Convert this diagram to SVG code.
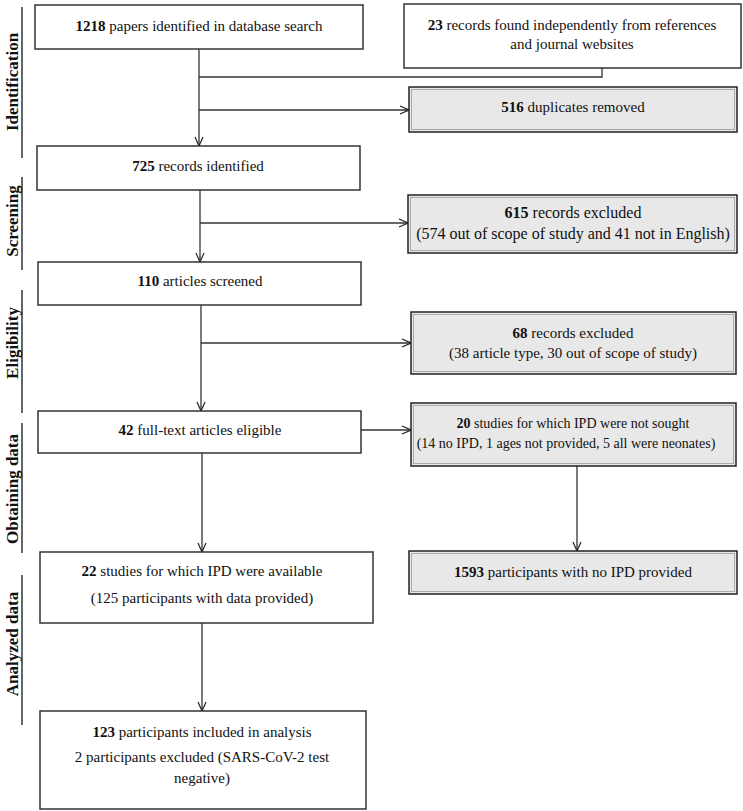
<svg xmlns="http://www.w3.org/2000/svg" width="743" height="811" viewBox="0 0 743 811">
<defs>
<marker id="arr" viewBox="0 0 10 10" refX="10" refY="5" markerWidth="10" markerHeight="10" markerUnits="userSpaceOnUse" orient="auto">
<path d="M1,1 L10,5 L1,9" fill="none" stroke="#222" stroke-width="1.2"/>
</marker>
<style>
.box{fill:#fff;stroke:#333;stroke-width:1.5}
.gbox{fill:#e8e8e8;stroke:#222;stroke-width:1.5}
.gin{fill:none;stroke:#aaa;stroke-width:1}
.t{font-family:"Liberation Serif","Times New Roman",serif;font-size:15px;fill:#111;text-anchor:middle}
.m{font-size:16px}
.s{font-size:14px}
.b{font-weight:bold}
.lab{font-family:"Liberation Serif","Times New Roman",serif;font-size:17px;font-weight:bold;fill:#111;text-anchor:middle}
.ln{stroke:#333;stroke-width:1.3;fill:none}
.sep{stroke:#333;stroke-width:1.5}
</style>
</defs>
<rect width="743" height="811" fill="#fff"/>
<g id="phases">
<line class="sep" x1="22" y1="7" x2="22" y2="158"/>
<text class="lab" transform="translate(18,82) rotate(-90)">Identification</text>
<line class="sep" x1="22" y1="177" x2="22" y2="270"/>
<text class="lab" transform="translate(18,221) rotate(-90)">Screening</text>
<line class="sep" x1="22" y1="290" x2="22" y2="413"/>
<text class="lab" transform="translate(18,343) rotate(-90)">Eligibility</text>
<line class="sep" x1="22" y1="423" x2="22" y2="553"/>
<text class="lab" transform="translate(18,489) rotate(-90)">Obtaining data</text>
<line class="sep" x1="22" y1="575" x2="22" y2="725"/>
<text class="lab" transform="translate(18,644) rotate(-90)">Analyzed data</text>
</g>
<g id="connectors">
<line class="ln" x1="199" y1="49" x2="199" y2="146" marker-end="url(#arr)"/>
<polyline class="ln" points="602,68 602,77 199,77"/>
<line class="ln" x1="199" y1="110" x2="409" y2="110" marker-end="url(#arr)"/>
<line class="ln" x1="200" y1="190" x2="200" y2="262" marker-end="url(#arr)"/>
<line class="ln" x1="200" y1="223" x2="408" y2="223" marker-end="url(#arr)"/>
<line class="ln" x1="201" y1="305" x2="201" y2="411" marker-end="url(#arr)"/>
<line class="ln" x1="201" y1="343" x2="411" y2="343" marker-end="url(#arr)"/>
<line class="ln" x1="361" y1="430" x2="411" y2="430" marker-end="url(#arr)"/>
<line class="ln" x1="202" y1="453" x2="202" y2="552" marker-end="url(#arr)"/>
<line class="ln" x1="577" y1="466" x2="577" y2="551" marker-end="url(#arr)"/>
<line class="ln" x1="202" y1="623" x2="202" y2="711" marker-end="url(#arr)"/>
</g>
<g id="n1218">
<rect class="box" x="35" y="5" width="328" height="44"/>
<text class="t" x="199" y="31"><tspan class="b">1218</tspan> papers identified in database search</text>
</g>
<g id="n23">
<rect class="box" x="404" y="4" width="337" height="64"/>
<text class="t" x="572" y="30"><tspan class="b">23</tspan> records found independently from references</text>
<text class="t" x="572" y="49">and journal websites</text>
</g>
<g id="n516">
<rect class="gbox" x="409" y="87" width="328" height="45"/>
<rect class="gin" x="411.5" y="89.5" width="323" height="40"/>
<text class="t" x="573" y="112"><tspan class="b">516</tspan> duplicates removed</text>
</g>
<g id="n725">
<rect class="box" x="37" y="146" width="323" height="44"/>
<text class="t" x="198" y="171"><tspan class="b">725</tspan> records identified</text>
</g>
<g id="n615">
<rect class="gbox" x="408" y="195" width="329" height="58"/>
<rect class="gin" x="410.5" y="197.5" width="324" height="53"/>
<text class="t m" x="573" y="218"><tspan class="b">615</tspan> records excluded</text>
<text class="t m" x="573" y="239">(574 out of scope of study and 41 not in English)</text>
</g>
<g id="n110">
<rect class="box" x="38" y="262" width="323" height="43"/>
<text class="t" x="200" y="286"><tspan class="b">110</tspan> articles screened</text>
</g>
<g id="n68">
<rect class="gbox" x="411" y="312" width="325" height="62"/>
<rect class="gin" x="413.5" y="314.5" width="320" height="57"/>
<text class="t" x="573" y="338"><tspan class="b">68</tspan> records excluded</text>
<text class="t" x="573" y="358">(38 article type, 30 out of scope of study)</text>
</g>
<g id="n42">
<rect class="box" x="38" y="411" width="323" height="42"/>
<text class="t" x="200" y="435"><tspan class="b">42</tspan> full-text articles eligible</text>
</g>
<g id="n20">
<rect class="gbox" x="411" y="403" width="325" height="63"/>
<rect class="gin" x="413.5" y="405.5" width="320" height="58"/>
<text class="t s" x="573" y="428"><tspan class="b">20</tspan> studies for which IPD were not sought</text>
<text class="t s" x="566" y="448">(14 no IPD, 1 ages not provided, 5 all were neonates)</text>
</g>
<g id="n22">
<rect class="box" x="40" y="552" width="333" height="71"/>
<text class="t" x="202" y="576"><tspan class="b">22</tspan> studies for which IPD were available</text>
<text class="t" x="202" y="603">(125 participants with data provided)</text>
</g>
<g id="n1593">
<rect class="gbox" x="409" y="551" width="328" height="43"/>
<rect class="gin" x="411.5" y="553.5" width="323" height="38"/>
<text class="t" x="573" y="577"><tspan class="b">1593</tspan> participants with no IPD provided</text>
</g>
<g id="n123">
<rect class="box" x="40" y="711" width="326" height="98"/>
<text class="t" x="202" y="737"><tspan class="b">123</tspan> participants included in analysis</text>
<text class="t" x="202" y="762">2 participants excluded (SARS-CoV-2 test</text>
<text class="t" x="202" y="783">negative)</text>
</g>
</svg>
